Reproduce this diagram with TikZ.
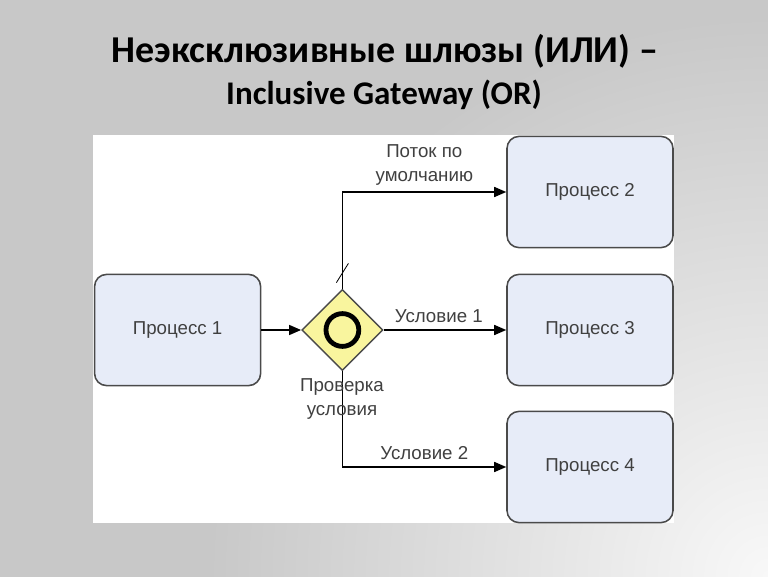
\documentclass[tikz,border=0pt]{standalone}
\usepackage{fontspec}
\setmainfont{Liberation Sans}
\newfontfamily\titlefont{Carlito}
\usepackage{tikz}
\usetikzlibrary{arrows.meta, positioning, shapes.geometric, calc}
\definecolor{slideGray}{HTML}{C8C8C8}
\definecolor{slideLight}{HTML}{F8F8F8}
\definecolor{procFill}{HTML}{E7ECF8}
\definecolor{procLine}{HTML}{4A4A4A}
\definecolor{gateFill}{HTML}{F9F59E}
\definecolor{labelText}{HTML}{404040}
\pgfdeclareradialshading{slidebg}{\pgfpoint{0cm}{0cm}}{%
  color(0bp)=(slideLight); color(14bp)=(slideGray); color(25bp)=(slideGray)}

\begin{document}
\begin{tikzpicture}[
  font=\fontsize{13.3pt}{17pt}\selectfont,
  proc/.style={draw=procLine, line width=1.1pt, rounded corners=0.3cm, fill=procFill,
               minimum width=4.15cm, minimum height=2.78cm, text=labelText},
  gate/.style={draw=procLine, line width=1pt, diamond, aspect=1, fill=gateFill,
               minimum width=2.03cm, minimum height=2.03cm, inner sep=0pt},
  lbl/.style={text=labelText, align=center, inner sep=1pt},
  flow/.style={-{Triangle[length=0.3cm, width=0.25cm]}, line width=1.05pt, black}
]
\useasboundingbox (0,0) rectangle (19.2,14.4);
% slide background
\begin{scope}
  \clip (0,0) rectangle (19.2,14.4);
  \shade[shading=slidebg] (19.2,0) circle (25cm);
\end{scope}
\node[anchor=base, font=\titlefont\bfseries\fontsize{27pt}{32pt}\selectfont] (title1) at (9.62,12.83)
  {Неэксклюзивные шлюзы (ИЛИ) –};
\node[anchor=base, font=\titlefont\bfseries\fontsize{23.5pt}{28pt}\selectfont] (title2) at (9.6,11.78)
  {Inclusive Gateway (OR)};
\fill[white] (2.325,1.325) rectangle (16.85,11.025);

\node[proc] (p1) at (4.44,6.15) {Процесс 1};
\node[proc] (p2) at (14.75,9.6) {Процесс 2};
\node[proc] (p3) at (14.75,6.15) {Процесс 3};
\node[proc] (p4) at (14.75,2.725) {Процесс 4};
\node[gate] (gw) at (8.56,6.15) {};
\draw[line width=0.12cm] (gw.center) circle (0.41cm);

\coordinate (up) at (8.56,9.6);
\coordinate (down) at (8.56,2.725);
\coordinate (tick) at (8.56,7.575);

\draw[flow] (p1) -- (gw);
\draw[flow] (gw.north) -- (up) -- (p2.west)
  node[midway, above=0.12cm, lbl] {Поток по\\умолчанию};
\draw[line width=0.6pt] ($(tick)+(-0.15,-0.24)$) -- ($(tick)+(0.15,0.24)$);
\draw[flow] (gw.east) -- (p3.west) node[pos=0.45, above=0.12cm, lbl] {Условие 1};
\draw[flow] (gw.south) -- (down) -- (p4.west)
  node[midway, above=0.12cm, lbl] {Условие 2};
\node[lbl] (check) at (8.55,4.43) {Проверка\\условия};
\end{tikzpicture}
\end{document}
